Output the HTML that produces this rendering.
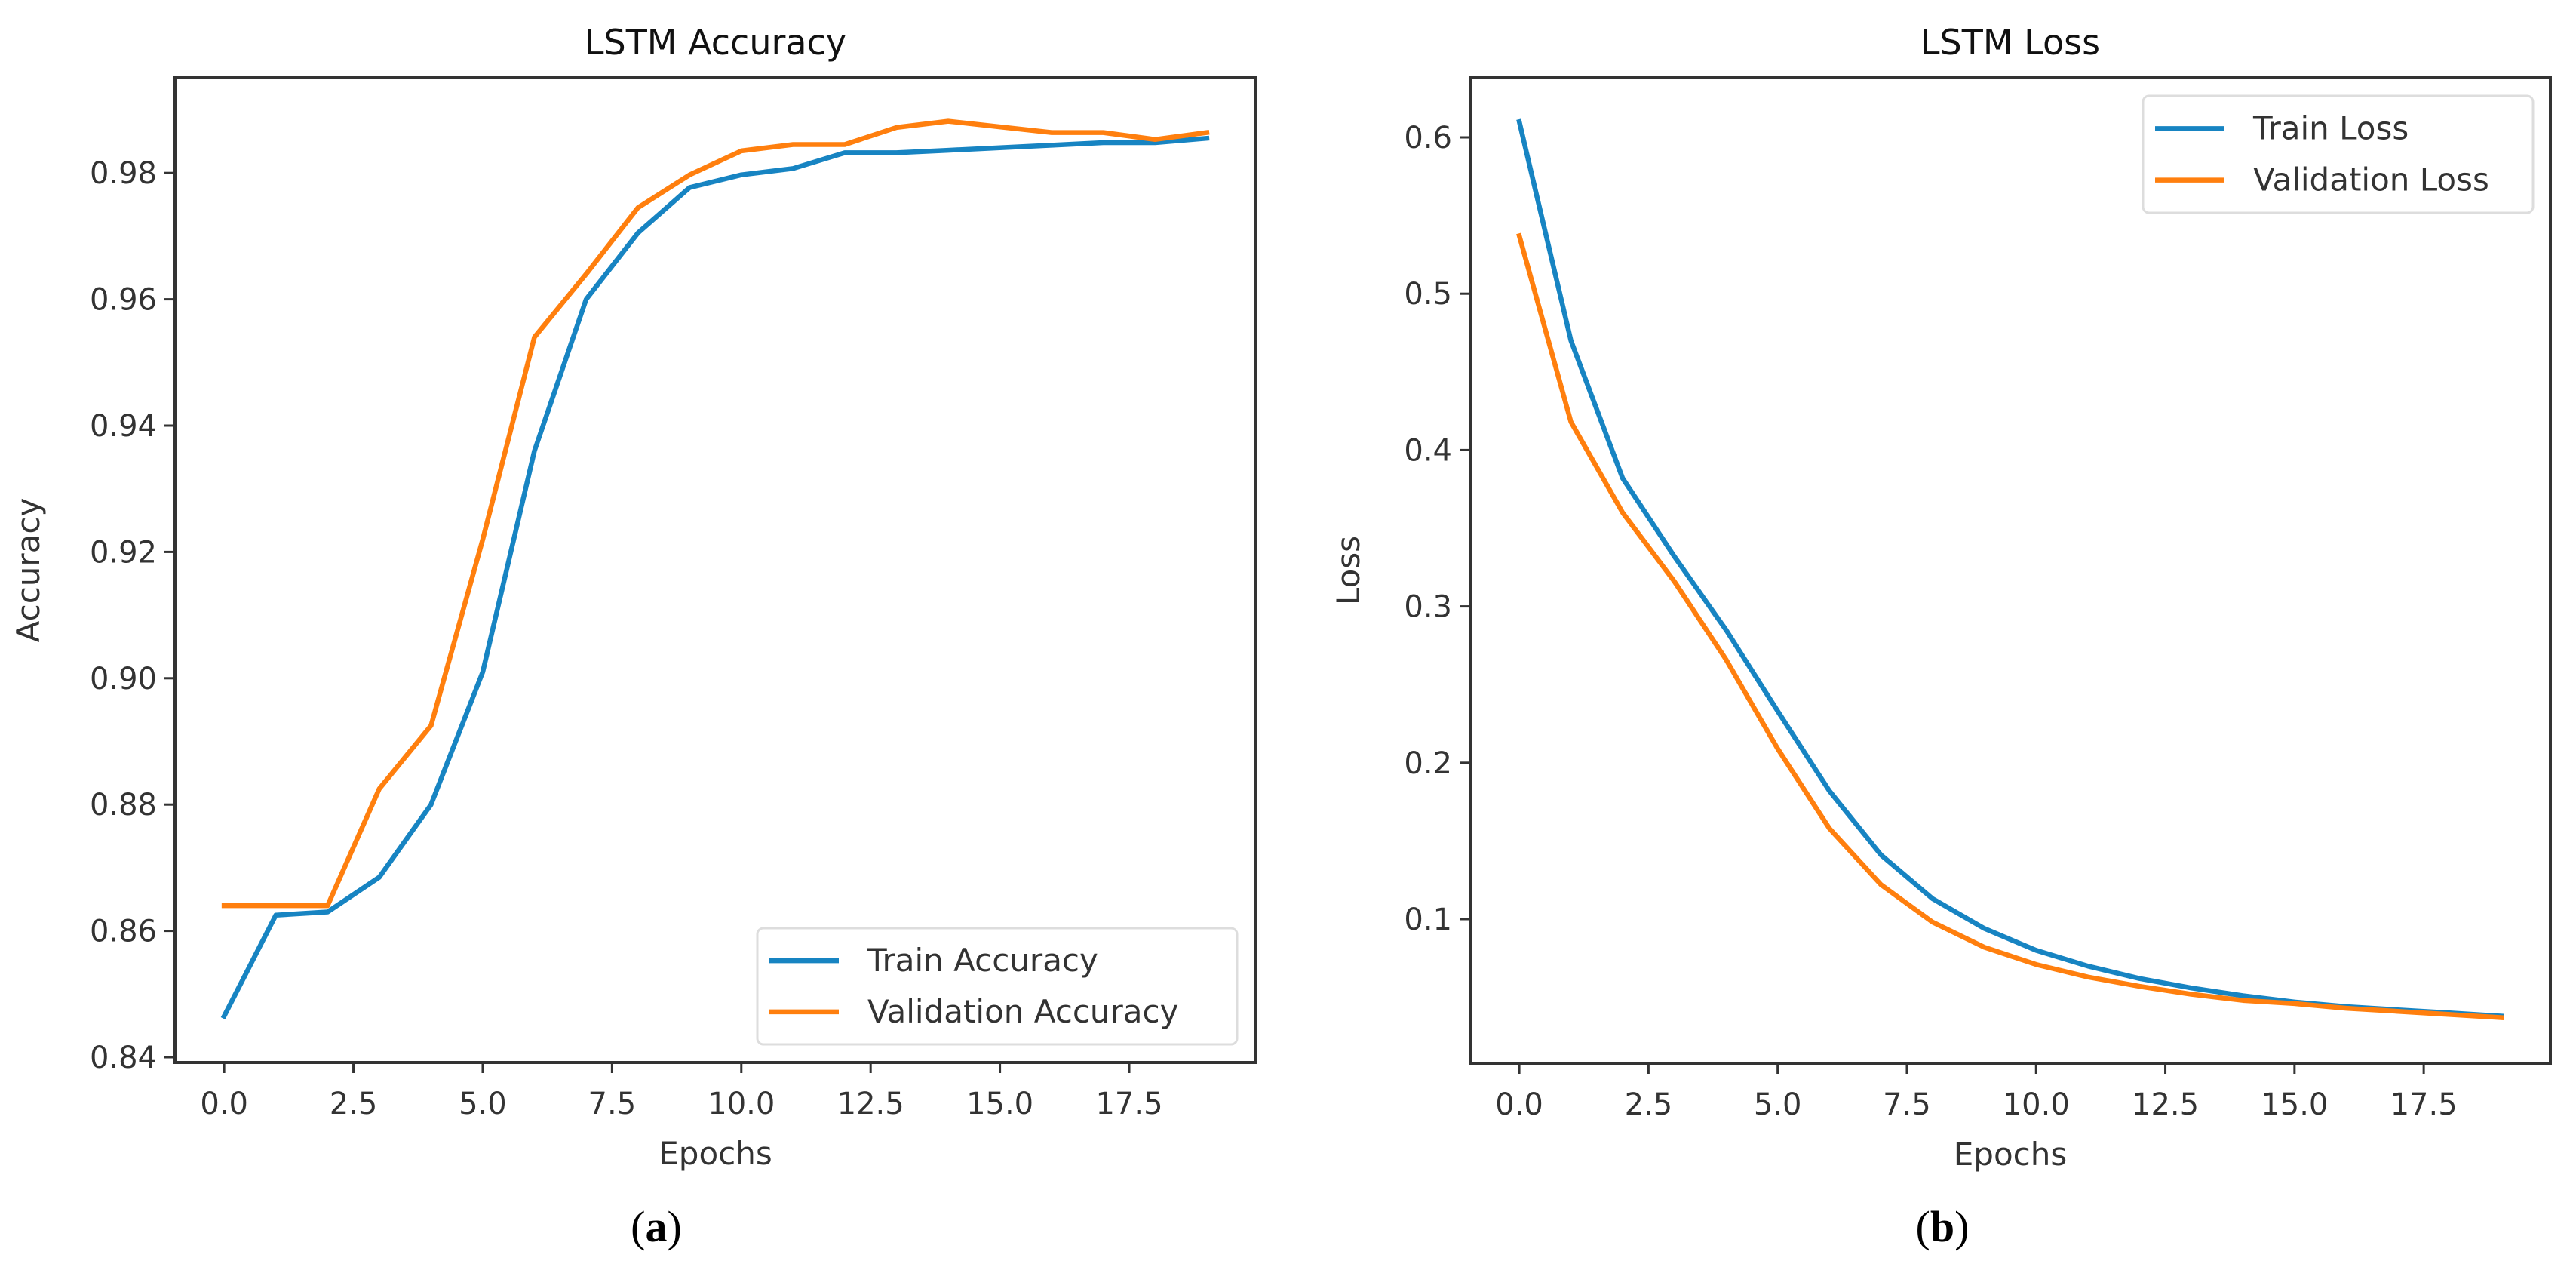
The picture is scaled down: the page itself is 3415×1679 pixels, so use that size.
<!DOCTYPE html>
<html><head><meta charset="utf-8">
<style>
html,body{margin:0;padding:0;background:#fff;}
svg{display:block;font-family:"DejaVu Sans","Liberation Sans",sans-serif;}
</style></head>
<body>
<svg id="fig" width="3415" height="1679" viewBox="0 0 3415 1679" xmlns="http://www.w3.org/2000/svg">
<rect width="3415" height="1679" fill="#fff"/>
<g id="left"></g>
<g id="right"></g>
<text x="870" y="1645" font-family="Liberation Serif, serif" font-size="58" text-anchor="middle" fill="#000">(<tspan font-weight="bold">a</tspan>)</text>
<text x="2575" y="1645" font-family="Liberation Serif, serif" font-size="58" text-anchor="middle" fill="#000">(<tspan font-weight="bold">b</tspan>)</text>
</svg>
<script>
const epochs = [0,1,2,3,4,5,6,7,8,9,10,11,12,13,14,15,16,17,18,19];
const trainAcc = [0.8465,0.8625,0.863,0.8685,0.880,0.901,0.936,0.960,0.9705,0.9777,0.9797,0.9807,0.9832,0.9832,0.9836,0.984,0.9844,0.9848,0.9848,0.9855];
const valAcc = [0.864,0.864,0.864,0.8825,0.8925,0.922,0.954,0.964,0.9745,0.9797,0.9835,0.9845,0.9845,0.9872,0.9882,0.9873,0.9864,0.9864,0.9853,0.9864];
const trainLoss = [0.61,0.47,0.382,0.332,0.285,0.233,0.182,0.141,0.113,0.094,0.080,0.070,0.062,0.056,0.051,0.047,0.044,0.042,0.040,0.038];
const valLoss = [0.537,0.418,0.360,0.316,0.266,0.209,0.158,0.122,0.098,0.082,0.071,0.063,0.057,0.052,0.048,0.046,0.043,0.041,0.039,0.037];
const xTicks = [0,2.5,5,7.5,10,12.5,15,17.5];
const xTickLabels = ["0.0","2.5","5.0","7.5","10.0","12.5","15.0","17.5"];
const accTicks = [0.84,0.86,0.88,0.90,0.92,0.94,0.96,0.98];
const accTickLabels = ["0.84","0.86","0.88","0.90","0.92","0.94","0.96","0.98"];
const lossTicks = [0.1,0.2,0.3,0.4,0.5,0.6];
const lossTickLabels = ["0.1","0.2","0.3","0.4","0.5","0.6"];

const NS="http://www.w3.org/2000/svg";
function mk(tag, attrs, parent){const e=document.createElementNS(NS,tag);for(const k in attrs)e.setAttribute(k,attrs[k]);parent.appendChild(e);return e;}
const BLUE="#1784c2", ORANGE="#ff7f0e";

function drawChart(g, cfg){
  const {L,R,T,B,yv0,yp0,ppu,title,ylabel,series,names,yTicks,yLabels,legend,ylabelX} = cfg;
  const x0 = L + (R-L)*0.05/1.1;
  const ex = (R-L)/(19*1.1);
  const sx = v => x0 + v*ex;
  const sy = v => yp0 - (v-yv0)*ppu;
  series.forEach((s,i)=>{
    const pts = epochs.map((e,j)=>sx(e).toFixed(1)+","+sy(s[j]).toFixed(1)).join(" ");
    const pl = mk("polyline",{points:pts,fill:"none",stroke:i===0?BLUE:ORANGE,"stroke-width":6.5,"stroke-linejoin":"round","stroke-linecap":"square"},g);
    
    
  });
  const fr = mk("rect",{x:L,y:T,width:R-L,height:B-T,fill:"none",stroke:"#333","stroke-width":4},g);
  
  
  xTicks.forEach((t,i)=>{
    mk("line",{x1:sx(t),x2:sx(t),y1:B,y2:B+14,stroke:"#333","stroke-width":3},g);
    const tx = mk("text",{x:sx(t),y:B+68,"font-size":40,"text-anchor":"middle",fill:"#333"},g);
    tx.textContent = xTickLabels[i];
    
    
  });
  yTicks.forEach((t,i)=>{
    mk("line",{x1:L-14,x2:L,y1:sy(t),y2:sy(t),stroke:"#333","stroke-width":3},g);
    const ty = mk("text",{x:L-24,y:sy(t)+14,"font-size":40,"text-anchor":"end",fill:"#333"},g);
    ty.textContent = yLabels[i];
    
    
  });
  const xt = mk("text",{x:(L+R)/2,y:B+135,"font-size":42,"text-anchor":"middle",fill:"#333"},g);
  xt.textContent="Epochs";
  
  
  const yt = mk("text",{x:ylabelX,y:(T+B)/2,"font-size":42,"text-anchor":"middle",fill:"#333",transform:`rotate(-90 ${ylabelX} ${(T+B)/2})`},g);
  yt.textContent=ylabel;
  
  
  const tt = mk("text",{x:(L+R)/2,y:72,"font-size":46,"text-anchor":"middle",fill:"#111"},g);
  tt.textContent=title;
  
  
  const lg = mk("g",{},g);
  
  
  mk("rect",{x:legend.x,y:legend.y,width:legend.w,height:legend.h,rx:8,fill:"#fff",stroke:"#ddd","stroke-width":3},lg);
  legend.labels.forEach((lab,i)=>{
    const yy = legend.y + legend.h*(i===0?0.28:0.72);
    mk("line",{x1:legend.x+16,x2:legend.x+108,y1:yy,y2:yy,stroke:i===0?BLUE:ORANGE,"stroke-width":6.5},lg);
    const t = mk("text",{x:legend.x+146,y:yy+14,"font-size":42,fill:"#333"},lg);
    t.textContent = lab;
    
    
  });
}

drawChart(document.getElementById("left"),{
  L:232,R:1665,T:103,B:1408,yv0:0.84,yp0:1401,ppu:167.4/0.02,
  title:"LSTM Accuracy",ylabel:"Accuracy",ylabelX:52,
  series:[trainAcc,valAcc],names:["train-accuracy","validation-accuracy"],
  yTicks:accTicks,yLabels:accTickLabels,
  legend:{x:1004,y:1230,w:636,h:154,labels:["Train Accuracy","Validation Accuracy"]}
});
drawChart(document.getElementById("right"),{
  L:1949,R:3381,T:103,B:1409,yv0:0.1,yp0:1218,ppu:207.2/0.1,
  title:"LSTM Loss",ylabel:"Loss",ylabelX:1802,
  series:[trainLoss,valLoss],names:["train-loss","validation-loss"],
  yTicks:lossTicks,yLabels:lossTickLabels,
  legend:{x:2841,y:127,w:517,h:155,labels:["Train Loss","Validation Loss"]}
});
</script>
</body></html>
